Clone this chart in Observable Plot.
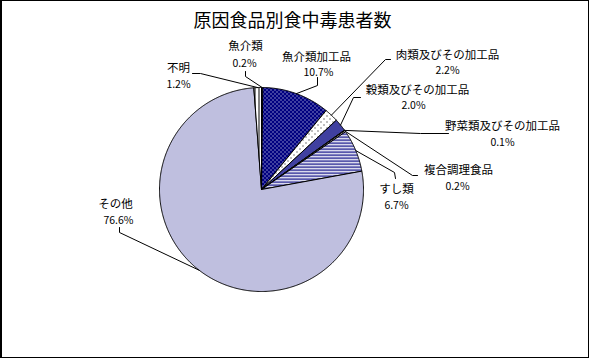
<!DOCTYPE html>
<html><head><meta charset="utf-8">
<script src="https://cdn.jsdelivr.net/npm/d3@7"></script>
<script src="https://cdn.jsdelivr.net/npm/@observablehq/plot@0.6"></script>
<style>
html,body{margin:0;padding:0;background:#fff;}
#chart{position:relative;width:589px;height:358px;box-sizing:border-box;border:1px solid #000;border-left-width:2px;overflow:hidden;background:#fff;}
#chart svg{display:block;}
</style></head><body><div id="chart"></div>
<script>
// ---- data ----
const title = "原因食品別食中毒患者数";
const categories = ["魚介類","魚介類加工品","肉類及びその加工品","穀類及びその加工品","野菜類及びその加工品","複合調理食品","すし類","その他","不明"];
const values = [0.2, 10.7, 2.2, 2.0, 0.1, 0.2, 6.7, 76.6, 1.2];
const pctLabels = ["0.2%","10.7%","2.2%","2.0%","0.1%","0.2%","6.7%","76.6%","1.2%"];

// ---- styles ----
const sliceFills = ["#ffffff","url(#pFishProc)","url(#pMeat)","url(#pGrain)","#ffffff","#ffffff","url(#pSushi)","url(#pOther)","url(#pUnknown)"];
const NAVY = "#000080";

// ---- layout (page px) ----
const R = 102, CX = 261, CY = 189;      // pie radius and centre
const OX = 2, OY = 1, W = 586, H = 356; // svg origin and size
const labelLayout = [
  {name:[245,46],  pct:[244,63],  leader:[[245,71],[245,76]]},
  {name:[316,57],  pct:[318,72],  leader:[[317,77],[317,85]]},
  {name:[447,55],  pct:[447,70],  leader:[[390,59],[385,59]]},
  {name:[417,90],  pct:[413,105], leader:[[360,97],[353,97]]},
  {name:[502,126], pct:[502,142], leader:[[448,133],[420,133]]},
  {name:[458,170], pct:[457,186], leader:[[417,175],[412,175]]},
  {name:[396,189], pct:[396,205], leader:[[395,178],[394,172]]},
  {name:[115,204], pct:[118,220], leader:[[119,227],[119,232]]},
  {name:[178,68],  pct:[178,84],  leader:[[192,73],[200,73]]}
];
const toU = ([px, py]) => ({x: (px - CX) / R, y: (CY - py) / R});

// ---- geometry from data ----
const pie = d3.pie().sort(null).value(d => d)(values);
const slices = pie.map((p, i) => {
  const pts = [{x: 0, y: 0}];
  const n = Math.max(2, Math.ceil((p.endAngle - p.startAngle) / (Math.PI / 360)));
  for (let k = 0; k <= n; k++) {
    const a = p.startAngle + (p.endAngle - p.startAngle) * k / n;
    pts.push({x: Math.sin(a), y: Math.cos(a)});
  }
  pts.push({x: 0, y: 0});
  return pts;
});
const leaders = [];
pie.forEach((p, i) => {
  const mid = (p.startAngle + p.endAngle) / 2;
  labelLayout[i].leader.forEach(q => leaders.push({...toU(q), key: i}));
  leaders.push({x: Math.sin(mid), y: Math.cos(mid), key: i});
});
const labelData = categories.map((c, i) => ({
  name: c, pct: pctLabels[i],
  nx: toU(labelLayout[i].name).x, ny: toU(labelLayout[i].name).y,
  px: toU(labelLayout[i].pct).x, py: toU(labelLayout[i].pct).y
}));

const font = "'Noto Sans CJK JP', 'Noto Sans', sans-serif";
const svg = Plot.plot({
  width: W, height: H, margin: 0,
  style: {fontFamily: font, background: "#fff", color: "#000", overflow: "visible"},
  x: {domain: [(OX - CX) / R, (OX + W - CX) / R], range: [0, W], axis: null},
  y: {domain: [(CY - OY - H) / R, (CY - OY) / R], range: [H, 0], axis: null},
  marks: [
    ...slices.map((pts, i) => Plot.line(pts, {x: "x", y: "y", fill: sliceFills[i], stroke: "#000", strokeWidth: 1, strokeLinejoin: "miter", curve: "linear"})),
    Plot.line(leaders, {x: "x", y: "y", z: "key", stroke: "#000", strokeWidth: 1, strokeLinejoin: "miter"}),
    Plot.text(labelData, {x: "nx", y: "ny", text: "name", fontSize: 11.5, lineAnchor: "middle", fill: "#000"}),
    Plot.text(labelData, {x: "px", y: "py", text: "pct", fontSize: 10.5, lineAnchor: "middle", fill: "#000"}),
    Plot.text([title], {frameAnchor: "top", dx: -3, dy: 20, fontSize: 18, lineAnchor: "middle", fill: "#000"})
  ]
});

// patterns
const defs = d3.select(svg).insert("defs", ":first-child");
function pattern(id, w, h, bg, fg, cells) {
  const p = defs.append("pattern").attr("id", id).attr("patternUnits", "userSpaceOnUse")
    .attr("width", w).attr("height", h);
  p.append("rect").attr("width", w).attr("height", h).attr("fill", bg);
  cells.forEach(([x, y, cw, ch]) => p.append("rect").attr("x", x).attr("y", y)
    .attr("width", cw || 1).attr("height", ch || 1).attr("fill", fg));
}
pattern("pFishProc", 4, 4, NAVY, "#fff", [[0,0],[2,2]]);
pattern("pMeat", 6, 6, "#fff", "#000", [[0,0],[3,3]]);
pattern("pGrain", 2, 4, NAVY, "#fff", [[0,0],[1,2]]);
pattern("pSushi", 4, 3, "#fff", NAVY, [[0,0,4,1.3]]);
pattern("pOther", 2, 2, "#fff", NAVY, [[0,0]]);
pattern("pUnknown", 4, 4, "#fff", "#000", [[0,0,1,4]]);

document.getElementById("chart").appendChild(svg);
</script></body></html>
